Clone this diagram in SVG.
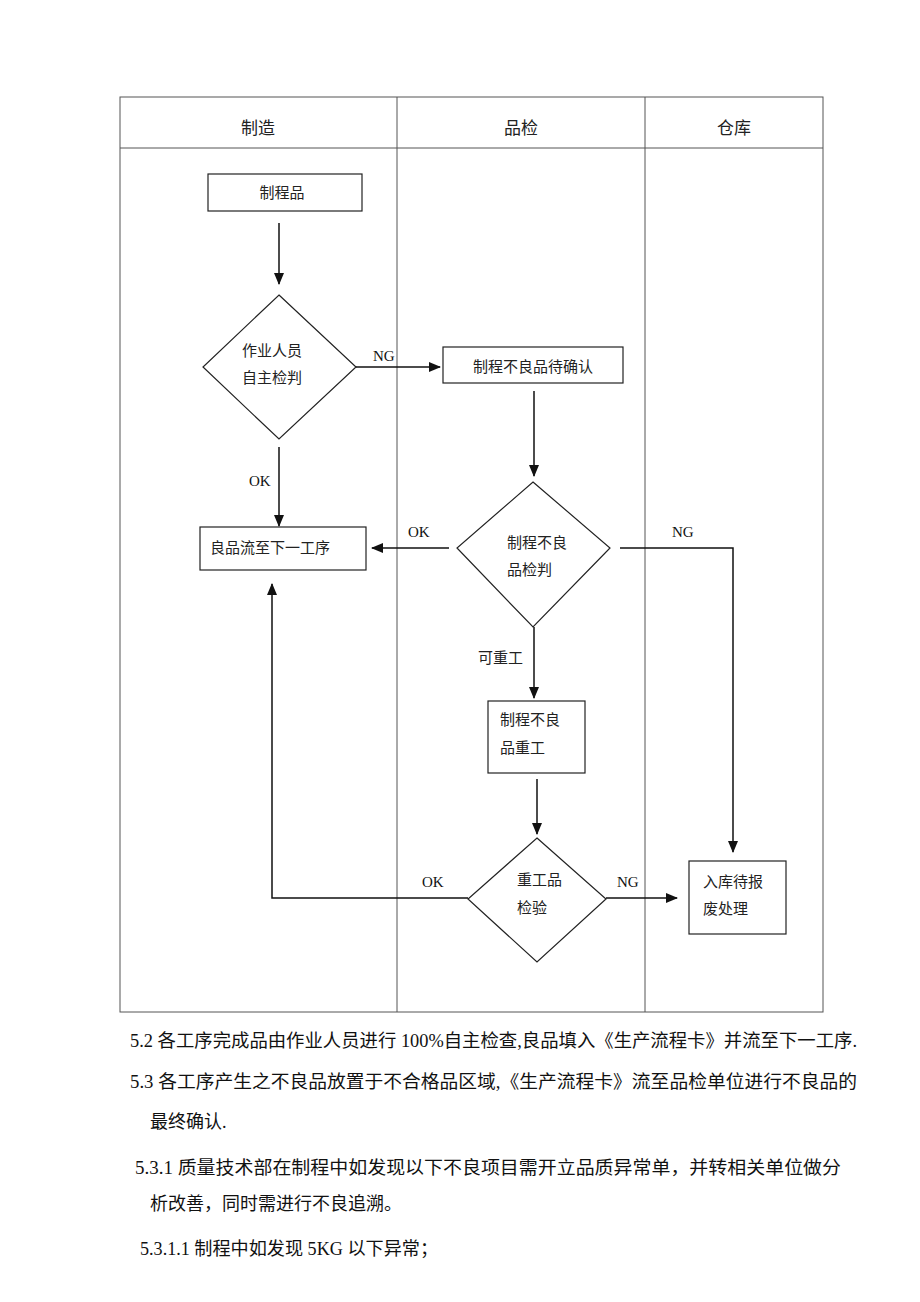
<svg xmlns="http://www.w3.org/2000/svg" width="920" height="1302" viewBox="0 0 920 1302">
<style>
.frame{fill:none;stroke:#555;stroke-width:1}
.node{fill:#fff;stroke:#222;stroke-width:1.2}
.t{font-family:"Noto Sans CJK SC","Liberation Sans",sans-serif;font-size:15px;fill:#222}
.h{font-family:"Noto Sans CJK SC","Liberation Sans",sans-serif;font-size:17px;fill:#222;text-anchor:middle}
.lb{font-family:"Liberation Serif","Noto Sans CJK SC",serif;font-size:15px;fill:#111}
.lc{font-family:"Noto Sans CJK SC","Liberation Sans",sans-serif;font-size:15px;fill:#222}
.p{font-family:"Liberation Serif","Noto Sans CJK SC",serif;font-size:18px;fill:#111}
.c{fill:none;stroke:#111;stroke-width:1.5}
</style>
<defs>
<marker id="ah" markerUnits="userSpaceOnUse" markerWidth="12" markerHeight="10" refX="11" refY="5" orient="auto">
<path d="M0,0 L12,5 L0,10 Z" fill="#111"/>
</marker>
</defs>
<rect width="920" height="1302" fill="#fff"/>
<g id="table">
<rect class="frame" x="120" y="97" width="703" height="915"/>
<line class="frame" x1="120" y1="148" x2="823" y2="148"/>
<line class="frame" x1="397" y1="97" x2="397" y2="1012"/>
<line class="frame" x1="645" y1="97" x2="645" y2="1012"/>
<text class="h" x="258" y="134">制造</text>
<text class="h" x="521" y="134">品检</text>
<text class="h" x="734" y="134">仓库</text>
</g>
<g id="n1">
<rect class="node" x="208" y="174" width="154" height="37"/>
<text class="t" x="282" y="198" text-anchor="middle">制程品</text>
</g>
<g id="n2">
<polygon class="node" points="279,295 356,367 279,439 203,367"/>
<text class="t" x="242" y="356">作业人员</text>
<text class="t" x="242" y="383">自主检判</text>
</g>
<g id="n3">
<rect class="node" x="443" y="347" width="180" height="36"/>
<text class="t" x="533" y="372" text-anchor="middle">制程不良品待确认</text>
</g>
<g id="n4">
<rect class="node" x="200" y="527" width="166" height="43"/>
<text class="t" x="210" y="553">良品流至下一工序</text>
</g>
<g id="n5">
<polygon class="node" points="533,482 610,548 533,627 457,548"/>
<text class="t" x="507" y="548">制程不良</text>
<text class="t" x="507" y="575">品检判</text>
</g>
<g id="n6">
<rect class="node" x="488" y="701" width="97" height="72"/>
<text class="t" x="500" y="725">制程不良</text>
<text class="t" x="500" y="753">品重工</text>
</g>
<g id="n7">
<polygon class="node" points="537,838 606,899 537,962 468,899"/>
<text class="t" x="517" y="885">重工品</text>
<text class="t" x="517" y="913">检验</text>
</g>
<g id="n8">
<rect class="node" x="689" y="861" width="97" height="73"/>
<text class="t" x="703" y="887">入库待报</text>
<text class="t" x="703" y="914">废处理</text>
</g>
<g id="connectors">
<line class="c" x1="279" y1="223" x2="279" y2="284" marker-end="url(#ah)"/>
<line class="c" x1="356" y1="367" x2="440" y2="367" marker-end="url(#ah)"/>
<line class="c" x1="279" y1="447" x2="279" y2="526" marker-end="url(#ah)"/>
<line class="c" x1="534" y1="391" x2="534" y2="476" marker-end="url(#ah)"/>
<line class="c" x1="449" y1="548" x2="372" y2="548" marker-end="url(#ah)"/>
<polyline class="c" points="620,548 733,548 733,852" marker-end="url(#ah)"/>
<line class="c" x1="534" y1="627" x2="534" y2="698" marker-end="url(#ah)"/>
<line class="c" x1="537" y1="779" x2="537" y2="834" marker-end="url(#ah)"/>
<polyline class="c" points="468,898 272,898 272,584" marker-end="url(#ah)"/>
<line class="c" x1="606" y1="898" x2="677" y2="898" marker-end="url(#ah)"/>
<text class="lb" x="373" y="361">NG</text>
<text class="lb" x="249" y="486">OK</text>
<text class="lb" x="408" y="537">OK</text>
<text class="lb" x="672" y="537">NG</text>
<text class="lc" x="478" y="663">可重工</text>
<text class="lb" x="422" y="887">OK</text>
<text class="lb" x="617" y="887">NG</text>
</g>
<g id="paragraphs">
<text class="p" x="130" y="1047" textLength="727" lengthAdjust="spacingAndGlyphs">5.2 各工序完成品由作业人员进行 100%自主检查,良品填入《生产流程卡》并流至下一工序.</text>
<text class="p" x="130" y="1088" textLength="727" lengthAdjust="spacingAndGlyphs">5.3 各工序产生之不良品放置于不合格品区域,《生产流程卡》流至品检单位进行不良品的</text>
<text class="p" x="150" y="1128">最终确认.</text>
<text class="p" x="135" y="1174" textLength="706" lengthAdjust="spacingAndGlyphs">5.3.1 质量技术部在制程中如发现以下不良项目需开立品质异常单，并转相关单位做分</text>
<text class="p" x="150" y="1210">析改善，同时需进行不良追溯。</text>
<text class="p" x="140" y="1255" textLength="298" lengthAdjust="spacingAndGlyphs">5.3.1.1 制程中如发现 5KG 以下异常；</text>
</g>
</svg>
